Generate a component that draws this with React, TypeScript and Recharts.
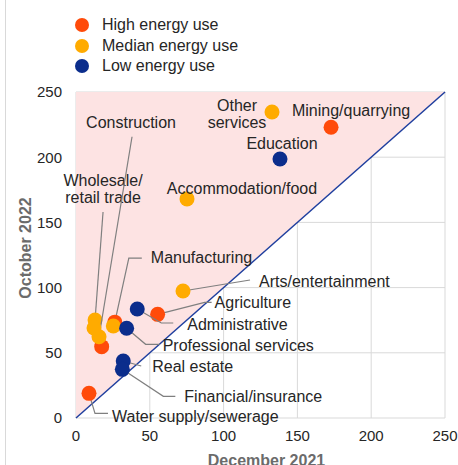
import React from 'react'
import {
  ScatterChart,
  Scatter,
  XAxis,
  YAxis,
  CartesianGrid,
  ReferenceArea,
  ReferenceLine,
  Legend,
} from 'recharts'

// x = December 2021, y = October 2022
const highNames = ['Mining/quarrying', 'Manufacturing', 'Agriculture', 'Water supply/sewerage', '']
const highDec = [172.8, 26.3, 55.3, 8.8, 17.4]
const highOct = [223, 73.5, 79.5, 18.9, 54.7]

const medianNames = ['Other services', 'Accommodation/food', 'Arts/entertainment', 'Wholesale/retail trade', 'Construction', '', '']
const medianDec = [132.8, 75.2, 72.5, 12.9, 15.6, 12.2, 25.3]
const medianOct = [234.7, 168, 97.4, 75.2, 62.3, 69, 70.6]

const lowNames = ['Education', 'Administrative', 'Professional services', 'Real estate', 'Financial/insurance']
const lowDec = [138.2, 41.5, 34.3, 32, 31.4]
const lowOct = [198.6, 83.6, 68.8, 43.7, 37.3]

const TICKS = [0, 50, 100, 150, 200, 250]

const SERIES = [
  { name: 'High energy use', color: '#ff4b0a' },
  { name: 'Median energy use', color: '#ffab00' },
  { name: 'Low energy use', color: '#0b2d8c' },
]

const toRows = (names: string[], xs: number[], ys: number[]) =>
  names.map((name, i) => ({ name, dec: xs[i], oct: ys[i] }))

// label placement relative to the point, in pixels
type LabelSpec = {
  lines: string[]
  dx: number
  dy: number
  anchor?: 'start' | 'middle'
  leader?: [number, number][]
}

const LABELS: Record<string, LabelSpec> = {
  'Mining/quarrying': { lines: ['Mining/quarrying'], dx: 20, dy: -17, anchor: 'middle' },
  'Other services': { lines: ['Other', 'services'], dx: -35, dy: -7, anchor: 'middle' },
  Education: { lines: ['Education'], dx: 2, dy: -16, anchor: 'middle' },
  'Accommodation/food': { lines: ['Accommodation/food'], dx: 55, dy: -11, anchor: 'middle' },
  Construction: { lines: ['Construction'], dx: 32, dy: -214, anchor: 'middle', leader: [[33, -200]] },
  'Wholesale/retail trade': {
    lines: ['Wholesale/', 'retail trade'],
    dx: 8,
    dy: -140,
    anchor: 'middle',
    leader: [[8, -108]],
  },
  Manufacturing: { lines: ['Manufacturing'], dx: 36, dy: -65, leader: [[14, -64], [27, -64]] },
  'Arts/entertainment': { lines: ['Arts/entertainment'], dx: 76, dy: -10, leader: [[67, -11]] },
  Agriculture: { lines: ['Agriculture'], dx: 57, dy: -12, leader: [[47, -12], [54, -12]] },
  Administrative: { lines: ['Administrative'], dx: 50, dy: 15, leader: [[24, 14], [36, 14]] },
  'Professional services': { lines: ['Professional services'], dx: 36, dy: 17, leader: [[19, 16], [33, 16]] },
  'Real estate': { lines: ['Real estate'], dx: 29, dy: 5, leader: [[18, 5]] },
  'Financial/insurance': { lines: ['Financial/insurance'], dx: 62, dy: 27, leader: [[41, 27], [53, 27]] },
  'Water supply/sewerage': { lines: ['Water supply/sewerage'], dx: 23, dy: 23, leader: [[6, 20], [19, 20]] },
}

const pointShape = (color: string) => (props: any) => {
  const { cx, cy, payload } = props
  const lab = LABELS[payload?.name]
  return (
    <g>
      {lab?.leader && (
        <polyline
          points={[[0, 0], ...lab.leader].map(([x, y]) => `${cx + x},${cy + y}`).join(' ')}
          fill="none"
          stroke="#7f7f7f"
          strokeWidth={1.2}
        />
      )}
      <circle cx={cx} cy={cy} r={7.5} fill={color} />
      {lab &&
        lab.lines.map((t, i) => (
          <text
            key={i}
            x={cx + lab.dx}
            y={cy + lab.dy + i * 17.5}
            dy="0.35em"
            textAnchor={lab.anchor || 'start'}
            fontSize={16}
            fill="#262626"
          >
            {t}
          </text>
        ))}
    </g>
  )
}

function LegendBox() {
  return (
    <div style={{ display: 'flex', flexDirection: 'column', gap: 2 }}>
      {SERIES.map((s) => (
        <div key={s.name} style={{ display: 'flex', alignItems: 'center', height: 18.5 }}>
          <span
            style={{
              width: 14,
              height: 14,
              borderRadius: 7,
              background: s.color,
              display: 'inline-block',
              marginRight: 13,
            }}
          />
          <span style={{ fontSize: 16, color: '#262626' }}>{s.name}</span>
        </div>
      ))}
    </div>
  )
}

export default function App() {
  const high = toRows(highNames, highDec, highOct)
  const median = toRows(medianNames, medianDec, medianOct)
  const low = toRows(lowNames, lowDec, lowOct)

  return (
    <div
      style={{
        position: 'absolute',
        left: 0,
        top: 0,
        width: 458,
        height: 465,
        background: '#fff',
        fontFamily: '"Liberation Sans", Arial, sans-serif',
      }}
    >
      <div style={{ position: 'absolute', left: 5, top: 0, width: 1, height: 465, background: '#d9d9d9' }} />
      <ScatterChart width={458} height={465} margin={{ top: 92, right: 13, bottom: 0, left: 0 }}>
        <ReferenceArea
          x1={0}
          x2={250}
          y1={0}
          y2={250}
          shape={(p: any) => (
            <polygon
              points={`${p.x},${p.y + p.height} ${p.x},${p.y} ${p.x + p.width},${p.y}`}
              fill="#fde3e3"
            />
          )}
        />
        <CartesianGrid stroke="#d9d9d9" />
        <XAxis
          type="number"
          dataKey="dec"
          domain={[0, 250]}
          ticks={TICKS}
          axisLine={false}
          tickLine={false}
          tickMargin={6}
          height={47}
          tick={{ fontSize: 15, fill: '#262626' }}
          label={{
            value: 'December 2021',
            position: 'insideBottom',
            offset: -1,
            dx: 6,
            style: { fontSize: 16, fontWeight: 700, fill: '#6b6b6b' },
          }}
        />
        <YAxis
          type="number"
          dataKey="oct"
          domain={[0, 250]}
          ticks={TICKS}
          axisLine={false}
          tickLine={false}
          tickMargin={8}
          width={76}
          tick={{ fontSize: 15, fill: '#262626' }}
          label={{
            value: 'October 2022',
            angle: -90,
            position: 'center',
            dx: -13,
            dy: -7,
            style: { fontSize: 16, fontWeight: 700, fill: '#6b6b6b', textAnchor: 'middle' },
          }}
        />
        <ReferenceLine
          segment={[
            { x: 0, y: 0 },
            { x: 250, y: 250 },
          ]}
          stroke="#1f3f9f"
          strokeWidth={1.5}
        />
        <Legend
          layout="vertical"
          align="center"
          verticalAlign="middle"
          content={() => <LegendBox />}
          wrapperStyle={{ top: 16, left: 75, width: 'auto' }}
        />
        <Scatter name="High energy use" data={high} shape={pointShape(SERIES[0].color)} isAnimationActive={false} />
        <Scatter name="Median energy use" data={median} shape={pointShape(SERIES[1].color)} isAnimationActive={false} />
        <Scatter name="Low energy use" data={low} shape={pointShape(SERIES[2].color)} isAnimationActive={false} />
      </ScatterChart>
    </div>
  )
}
